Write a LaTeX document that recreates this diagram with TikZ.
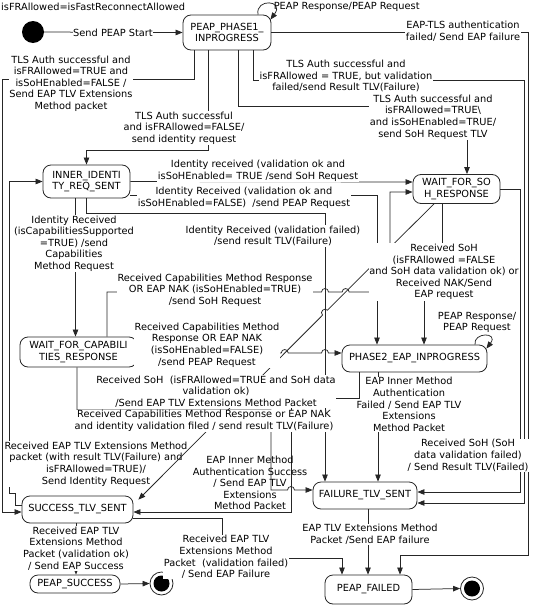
\documentclass[tikz,border=0pt]{standalone}
\usepackage{fontspec}
\setmainfont{DejaVu Sans}
\usetikzlibrary{arrows.meta}
\begin{document}
\begin{tikzpicture}[x=1pt,y=-1pt,
  every node/.style={font=\fontsize{9.8}{11.6}\selectfont},
  state/.style={draw=black!85, line width=0.8pt, rounded corners=8pt, fill=white, align=center, inner sep=0pt},
  lbl/.style={fill=white, align=center, inner sep=0.6pt},
  tlbl/.style={align=center, inner sep=0.6pt},
  conn/.style={draw=black!85, line width=0.75pt, -{Triangle[length=7pt,width=5.5pt]}}]
\useasboundingbox (0,0) rectangle (533,605);

% states
\node[circle, fill=black, minimum size=22pt, inner sep=0pt] (start) at (33,32) {};
\node[state, minimum width=88pt, minimum height=35pt] (phase1) at (227,32.5) {PEAP\_PHASE1\_\\INPROGRESS};
\node[state, minimum width=87pt, minimum height=33pt] (inner) at (86.5,181.5) {INNER\_IDENTI\\TY\_REQ\_SENT};
\node[state, minimum width=87pt, minimum height=29pt] (soh) at (456.5,189) {WAIT\_FOR\_SO\\H\_RESPONSE};
\node[state, minimum width=117pt, minimum height=30pt] (waitcap) at (78.5,352) {WAIT\_FOR\_CAPABILI\\TIES\_RESPONSE};
\node[state, minimum width=145pt, minimum height=27pt] (phase2) at (414.5,358.5) {PHASE2\_EAP\_INPROGRESS};
\node[state, minimum width=111pt, minimum height=27pt] (success) at (77.5,509.5) {SUCCESS\_TLV\_SENT};
\node[state, minimum width=104pt, minimum height=27pt] (failure) at (365,495.5) {FAILURE\_TLV\_SENT};
\node[state, minimum width=90pt, minimum height=18pt, rounded corners=8pt] (psuccess) at (75,584) {PEAP\_SUCCESS};
\node[state, minimum width=87pt, minimum height=29pt] (pfailed) at (368.5,589.5) {PEAP\_FAILED};
\node[circle, draw=black!85, line width=0.8pt, minimum size=23pt, inner sep=0pt] (end1) at (161.5,583.5) {};
\node[circle, fill=black, minimum size=16pt, inner sep=0pt] (end1dot) at (161.5,583.5) {};
\node[circle, draw=black!85, line width=0.8pt, minimum size=23pt, inner sep=0pt] (end2) at (472,588.5) {};
\node[circle, fill=black, minimum size=16pt, inner sep=0pt] (end2dot) at (472,588.5) {};

% connectors
\draw[conn] (start) -- (phase1.west);
\draw[conn] ([xshift=31pt]phase1.north) .. controls (255,-2) and (285,0) .. ([xshift=-1pt,yshift=-5pt]phase1.north east);
\draw[conn] (phase1.east) -- (528,32.5) -- (528,555) -| ([xshift=31.5pt]pfailed.north);
\draw[conn] ([xshift=26pt]phase1.south) |- (524,80) |- ([yshift=-7.5pt]failure.east);
\draw[conn] ([xshift=11pt]phase1.south) |- (467,106) -- ([xshift=10.5pt]soh.north);
\draw[conn] ([xshift=-19pt]phase1.south) |- (86.5,150) -- (inner.north);
\draw[conn] ([xshift=-33pt]phase1.south) |- (2,79) |- ([yshift=-2.5pt]success.west);
\draw[conn] ([yshift=4pt]success.west) -- (15,505.5) -- (15,493) -- (9,493) |- (inner.west);
\draw[conn] (inner.east) -- ([yshift=7pt]soh.west);
\draw[conn] ([yshift=-13.5pt]inner.east) -| ([xshift=-37.5pt]phase2.north);
\draw[conn] (inner.south) |- (325,213) -- ([xshift=-40pt]failure.north);
\draw[conn] ([xshift=-11pt]inner.south) -- ([xshift=-3pt]waitcap.north);
\draw[conn] ([xshift=28.5pt]waitcap.north) -- (107,292) -- (321.5,292)
  .. controls (321.5,287.4) and (328.5,287.4) .. (328.5,292) -- (342.15,292)
  .. controls (342.15,287.4) and (349.15,287.4) .. (349.15,292) -- (373.5,292)
  .. controls (373.5,287.4) and (380.5,287.4) .. (380.5,292) -- (390,292) |- ([yshift=-3pt]soh.west);
\draw[conn] ([yshift=-1pt]waitcap.east) -- (281.25,353)
  .. controls (281.25,348.4) and (288.25,348.4) .. (288.25,353) -- (321.5,353)
  .. controls (321.5,348.4) and (328.5,348.4) .. (328.5,353) -- ([yshift=5.5pt]phase2.west);
\draw[conn] ([xshift=-14.5pt]soh.south) -- (442,275) -- (424,275) -- ([xshift=9.5pt]phase2.north);
\draw[conn] (soh.east) -- (520,189) |- ([yshift=3.5pt]failure.east);
\draw[conn] ([xshift=-36.5pt]phase2.south) -- ([xshift=13pt]failure.north);
\draw[conn] ([xshift=60.5pt]phase2.north) .. controls (473,332) and (499,332) .. ([xshift=-1pt,yshift=-4pt]phase2.north east);
\draw[conn] ([xshift=-1.5pt]waitcap.south) |- (271,410) -- (271,490) -- (287.5,490)
  .. controls (287.5,485.4) and (294.5,485.4) .. (294.5,490) -- ([yshift=5.5pt]failure.west);
\draw[conn] ([xshift=3pt]failure.south) -- ([xshift=-0.5pt]pfailed.north);
\draw[conn] ([xshift=-1.5pt]success.south) -- ([xshift=1pt]psuccess.north);
\draw[conn] ([yshift=-9pt]success.east) -- (222,518.5) -- (222,558) -| ([xshift=-26.5pt]pfailed.north);
\draw[conn] (psuccess.east) -- (end1.west);
\draw[conn] (pfailed.east) -- (end2.west);

\node[lbl] (l20) at (96,464) {Received EAP TLV Extensions Method\\packet (with result TLV(Failure) and\\isFRAllowed=TRUE)/\\Send Identity Request};

% diagonal with hops
\draw[conn] ([xshift=-22.5pt]soh.south) -- (392.47,245.12)
  .. controls (389.22,241.87) and (384.28,246.83) .. (387.53,250.08) -- (379.47,258.12)
  .. controls (376.22,254.87) and (371.28,259.83) .. (374.53,263.08) -- (327.47,310.22)
  .. controls (324.22,306.97) and (319.28,311.93) .. (322.53,315.18)
  -- ([xshift=5pt,yshift=-4pt]success.north east);

\node[lbl] (l18) at (409,404.5) {EAP Inner Method\\Authentication\\Failed / Send EAP TLV\\Extensions\\Method Packet};
\draw[conn] ([xshift=-55.5pt]phase2.south) |- (291,398) |- ([yshift=-2.5pt]success.east);

% labels
\node[anchor=west, inner sep=0pt] (l0) at (1,7) {isFRAllowed=isFastReconnectAllowed};
\node[lbl] (l1) at (113,33) {Send PEAP Start};
\node[tlbl, anchor=west] (l2) at (273,7) {PEAP Response/PEAP Request};
\node[lbl] (l3) at (463,31) {EAP-TLS authentication\\failed/ Send EAP failure};
\node[lbl] (l4) at (71,83.5) {TLS Auth successful and\\isFRAllowed=TRUE and\\isSoHEnabled=FALSE /\\Send EAP TLV Extensions\\Method packet};
\node[lbl] (l5) at (184,128) {TLS Auth successful\\and isFRAllowed=FALSE/\\send identity request};
\node[lbl] (l6) at (346,76) {TLS Auth successful and\\isFRAllowed = TRUE, but validation\\failed/send Result TLV(Failure)};
\node[lbl] (l7) at (433,117) {TLS Auth successful and\\isFRAllowed=TRUE\textbackslash\\and isSoHEnabled=TRUE/\\send SoH Request TLV};
\node[lbl] (l8) at (258,171) {Identity received (validation ok and\\isSoHEnabled= TRUE /send SoH Request};
\node[lbl] (l9) at (244,198) {Identity Received (validation ok and\\isSoHEnabled=FALSE)\ \ /send PEAP Request};
\node[lbl] (l10) at (273,236) {Identity Received (validation failed)\\/send result TLV(Failure)};
\node[lbl] (l11) at (74,243.5) {Identity Received\\(isCapabilitiesSupported\\=TRUE) /send\\Capabilities\\Method Request};
\node[lbl] (l12) at (215,290) {Received Capabilities Method Response\\OR EAP NAK (isSoHEnabled=TRUE)\\/send SoH Request};
\node[lbl] (l13) at (444,272) {Received SoH\\(isFRAllowed =FALSE\\and SoH data validation ok) or\\Received NAK/Send\\EAP request};
\node[lbl] (l14) at (207,345) {Received Capabilities Method\\Response OR EAP NAK\\(isSoHEnabled=FALSE)\\/send PEAP Request};
\node[tlbl] (l15) at (477,322.5) {PEAP Response/\\PEAP Request};
\node[lbl] (l16) at (216,391.5) {Received SoH\ \ (isFRAllowed=TRUE and SoH data\\validation ok)\\/Send EAP TLV Extensions Method Packet};
\node[lbl] (l17) at (204,421) {Received Capabilities Method Response or EAP NAK\\and identity validation filed / send result TLV(Failure)};
\node[lbl] (l19) at (468,455.5) {Received SoH (SoH\\data validation failed)\\/ Send Result TLV(Failed)};
\node[tlbl] (l21) at (250,483) {EAP Inner Method\\Authentication Success\\/ Send EAP TLV\\Extensions\\Method Packet};
\node[lbl] (l22) at (76,548.5) {Received EAP TLV\\Extensions Method\\Packet (validation ok)\\/ Send EAP Success};
\node[lbl] (l23) at (226,557) {Received EAP TLV\\Extensions Method\\Packet\ \ (validation failed)\\/ Send EAP Failure};
\node[lbl] (l24) at (370,534.5) {EAP TLV Extensions Method\\Packet /Send EAP failure};
\end{tikzpicture}
\end{document}
